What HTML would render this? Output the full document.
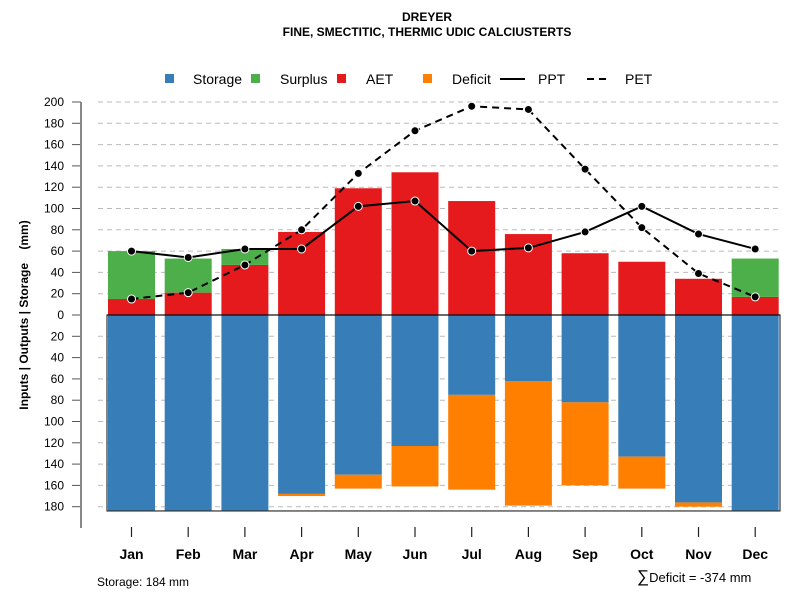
<!DOCTYPE html>
<html><head><meta charset="utf-8"><style>
body{margin:0;background:#fff;font-family:"Liberation Sans",Arial,sans-serif}
svg{display:block}
</style></head><body>
<svg id="chart" width="800" height="600" xmlns="http://www.w3.org/2000/svg">
<g font-weight="bold" font-size="12" text-anchor="middle">
<text x="427" y="21">DREYER</text>
<text x="427" y="36">FINE, SMECTITIC, THERMIC UDIC CALCIUSTERTS</text>
</g>
<g id="grid"></g>
<g id="bars"></g>
<g id="lines"></g>
<g id="axes"></g>
<g font-size="14">
<rect x="165" y="74" width="9" height="9" fill="#377eb8"/>
<text x="193" y="84">Storage</text>
<rect x="251" y="74" width="9" height="9" fill="#4daf4a"/>
<text x="280" y="84">Surplus</text>
<rect x="337" y="74" width="9" height="9" fill="#e41a1c"/>
<text x="366" y="84">AET</text>
<rect x="423" y="74" width="9" height="9" fill="#ff7f00"/>
<text x="452" y="84">Deficit</text>
<line x1="500" y1="79" x2="525" y2="79" stroke="#000" stroke-width="2"/>
<text x="538" y="84">PPT</text>
<line x1="587" y1="79" x2="610" y2="79" stroke="#000" stroke-width="2" stroke-dasharray="7,5"/>
<text x="625" y="84">PET</text>
</g>
<text transform="translate(28,315) rotate(-90)" text-anchor="middle" font-size="12" font-weight="bold">Inputs | Outputs | Storage &#160;&#160;&#160;(mm)</text>
<text x="97" y="586" font-size="12">Storage: 184 mm</text>
<text x="637" y="582" font-size="13"><tspan font-size="17">∑</tspan>Deficit = -374 mm</text>
</svg>
<script>
const months=["Jan","Feb","Mar","Apr","May","Jun","Jul","Aug","Sep","Oct","Nov","Dec"];
const ppt=[60,54,62,62,102,107,60,63,78,102,76,62];
const pet=[15,21,47,80,133,173,196,193,137,82,39,17];
const aet=[15,21,47,78,119,134,107,76,58,50,34,17];
const surplus=[45,32,15,0,0,0,0,0,0,0,0,36];
const storage=[184,184,184,168,150,123,75,62,82,133,176,184];
const deficit=[0,0,0,2,13,38,89,117,78,30,4,0];
const yTicks=[200,180,160,140,120,100,80,60,40,20,0,20,40,60,80,100,120,140,160,180];
const yTickVals=[200,180,160,140,120,100,80,60,40,20,0,-20,-40,-60,-80,-100,-120,-140,-160,-180];
const NS="http://www.w3.org/2000/svg";
const y0=315,k=1.065;
function y(v){return y0-v*k;}
function xc(i){return 131.5+i*56.7;}
const bw=47;
function mk(tag,attrs,parent){const e=document.createElementNS(NS,tag);for(const a in attrs)e.setAttribute(a,attrs[a]);parent.appendChild(e);return e;}
const grid=document.getElementById('grid'),bars=document.getElementById('bars'),lines=document.getElementById('lines'),axes=document.getElementById('axes');
yTickVals.forEach((v,i)=>{
 if(v!==0){const l=mk('line',{x1:98,x2:782,y1:y(v),y2:y(v),stroke:'#bbb','stroke-dasharray':'5,4'},grid);
 
 }
 const t=mk('line',{x1:72,x2:81,y1:y(v),y2:y(v),stroke:'#555'},axes);
 
 
 const tx=mk('text',{x:64,y:y(v)+4,'text-anchor':'end','font-size':12},axes);tx.textContent=yTicks[i];
 
 
});
const ax=mk('line',{x1:81,x2:81,y1:y(200),y2:528,stroke:'#888','stroke-width':2},axes);


months.forEach((m,i)=>{
 const x=xc(i)-bw/2;
 function bar(top,bot,color,name){if(Math.abs(bot-top)<0.01)return;
  const r=mk('rect',{x:x,y:Math.min(y(top),y(bot)),width:bw,height:Math.abs(y(top)-y(bot)),fill:color},bars);
  
  }
 bar(0,aet[i],'#e41a1c','bar-aet-'+m.toLowerCase());
 bar(aet[i],aet[i]+surplus[i],'#4daf4a','bar-surplus-'+m.toLowerCase());
 bar(0,-storage[i],'#377eb8','bar-storage-'+m.toLowerCase());
 bar(-storage[i],-storage[i]-deficit[i],'#ff7f00','bar-deficit-'+m.toLowerCase());
 const t=mk('line',{x1:xc(i),x2:xc(i),y1:527,y2:537,stroke:'#222','stroke-width':1.2},axes);
 
 
 const tx=mk('text',{x:xc(i),y:559,'text-anchor':'middle','font-size':14,'font-weight':'bold'},axes);tx.textContent=m;
 
 
});
const box=mk('rect',{x:107,y:y0,width:673,height:184*k,fill:'none',stroke:'#333','stroke-width':1.2},bars);


const zl=mk('line',{x1:107,x2:780,y1:y0,y2:y0,stroke:'#000'},bars);


function series(vals,dash,name){
 const p=mk('polyline',{points:vals.map((v,i)=>xc(i)+','+y(v)).join(' '),fill:'none',stroke:'#000','stroke-width':2,'stroke-dasharray':dash},lines);
 
 
 vals.forEach((v,i)=>{const c=mk('circle',{cx:xc(i),cy:y(v),r:4,fill:'#000',stroke:'#fff','stroke-width':1},lines);
  
  });
}
series(ppt,'none','ppt');
series(pet,'7,5','pet');
</script>
</body></html>
